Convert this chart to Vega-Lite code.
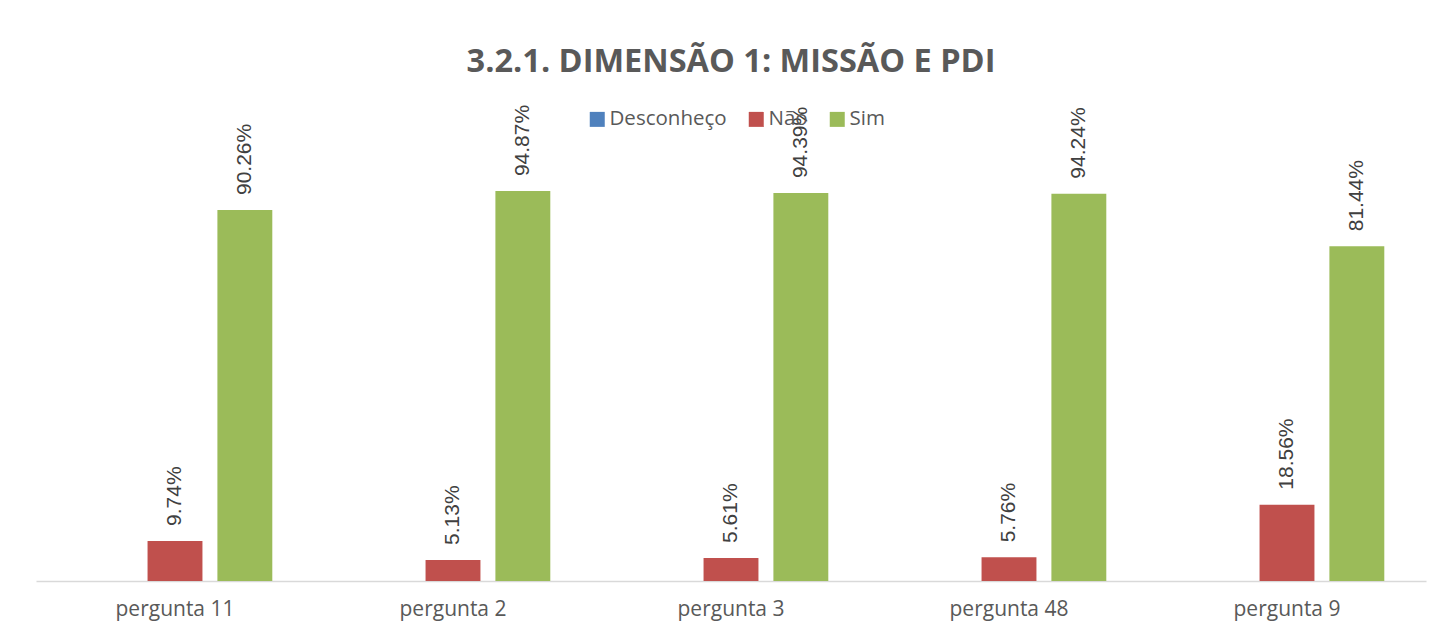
{
  "$schema": "https://vega.github.io/schema/vega-lite/v6.json",
  "autosize": "none",
  "width": 1390,
  "height": 411,
  "padding": {"top": 170, "left": 36, "right": 22, "bottom": 56},
  "background": "white",
  "title": {
    "text": "3.2.1. DIMENSÃO 1: MISSÃO E PDI",
    "font": "Open Sans",
    "fontSize": 32.5,
    "fontWeight": "bold",
    "color": "#595959",
    "anchor": "middle",
    "offset": 26
  },
  "data": {
    "values": [
      {"pergunta": "pergunta 11", "resposta": "Não", "valor": 0.0974},
      {"pergunta": "pergunta 11", "resposta": "Sim", "valor": 0.9026},
      {"pergunta": "pergunta 2", "resposta": "Não", "valor": 0.0513},
      {"pergunta": "pergunta 2", "resposta": "Sim", "valor": 0.9487},
      {"pergunta": "pergunta 3", "resposta": "Não", "valor": 0.0561},
      {"pergunta": "pergunta 3", "resposta": "Sim", "valor": 0.9439},
      {"pergunta": "pergunta 48", "resposta": "Não", "valor": 0.0576},
      {"pergunta": "pergunta 48", "resposta": "Sim", "valor": 0.9424},
      {"pergunta": "pergunta 9", "resposta": "Não", "valor": 0.1856},
      {"pergunta": "pergunta 9", "resposta": "Sim", "valor": 0.8144}
    ]
  },
  "encoding": {
    "x": {
      "field": "pergunta",
      "type": "nominal",
      "sort": null,
      "scale": {"paddingInner": 0.3, "paddingOuter": 0.15},
      "axis": {
        "title": null,
        "labelAngle": 0,
        "ticks": false,
        "labelFont": "Open Sans",
        "labelFontSize": 21,
        "labelColor": "#595959",
        "labelPadding": 17,
        "domainColor": "#d9d9d9",
        "domainWidth": 1.5
      }
    },
    "xOffset": {
      "field": "resposta",
      "type": "nominal",
      "scale": {"domain": ["Desconheço", "Não", "Sim"], "paddingInner": 0.214, "paddingOuter": 0}
    },
    "y": {
      "field": "valor",
      "type": "quantitative",
      "scale": {"domain": [0, 1], "nice": false},
      "axis": null
    }
  },
  "layer": [
    {
      "mark": {"type": "bar"},
      "encoding": {
        "color": {
          "field": "resposta",
          "type": "nominal",
          "scale": {"domain": ["Desconheço", "Não", "Sim"], "range": ["#4f81bd", "#c0504d", "#9bbb59"]},
          "legend": {
            "title": null,
            "orient": "none",
            "direction": "horizontal",
            "legendX": 551,
            "legendY": -61,
            "symbolType": "square",
            "symbolSize": 225,
            "symbolStrokeWidth": 0,
            "labelFont": "Open Sans",
            "labelFontSize": 20.5,
            "labelColor": "#595959",
            "labelOffset": 2,
            "columnPadding": 19,
            "padding": 0
          }
        }
      }
    },
    {
      "mark": {
        "type": "text",
        "angle": 270,
        "align": "left",
        "baseline": "middle",
        "dx": 15,
        "font": "Liberation Sans",
        "fontSize": 21,
        "color": "#404040"
      },
      "encoding": {
        "text": {"field": "valor", "type": "quantitative", "format": ".2%"}
      }
    }
  ],
  "config": {
    "view": {"stroke": null}
  }
}
